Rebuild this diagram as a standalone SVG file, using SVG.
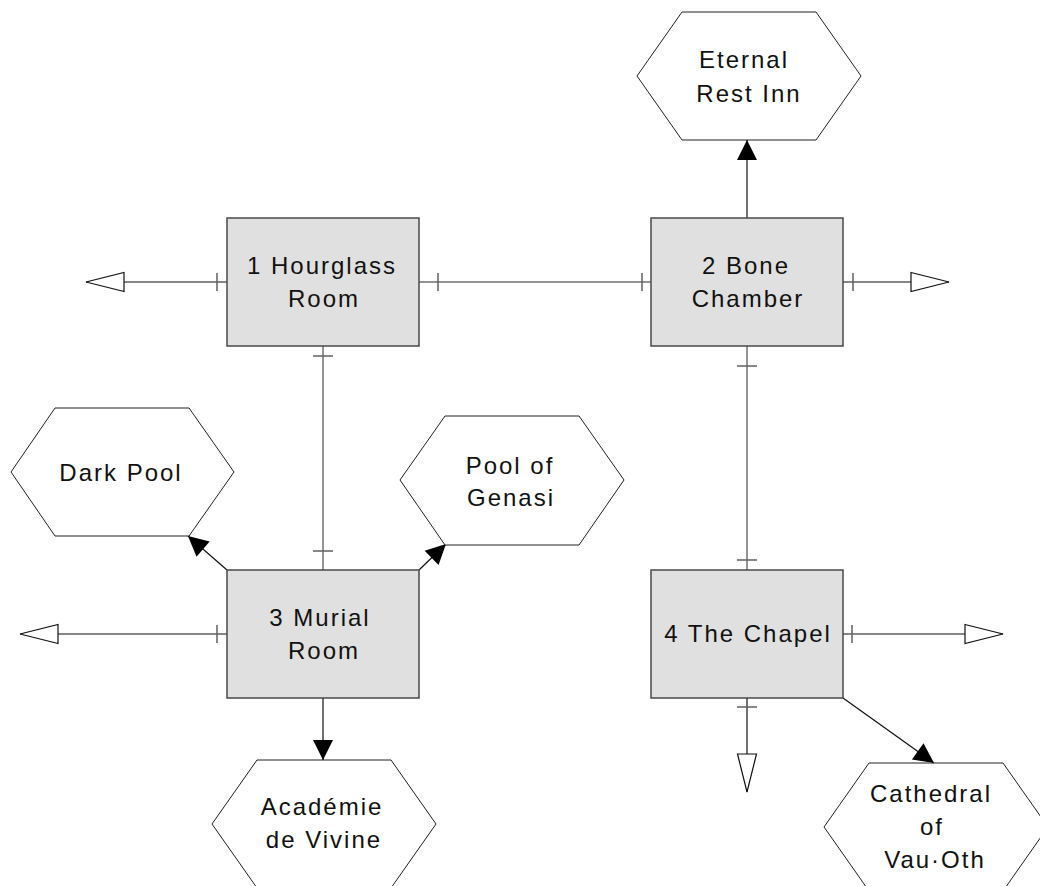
<svg xmlns="http://www.w3.org/2000/svg" width="1040" height="886" viewBox="0 0 1040 886">
<style>
.room{fill:#e0e0e0;stroke:#4a4a4a;stroke-width:1.5}
.place{fill:#ffffff;stroke:#222;stroke-width:1}
.lbl{font-family:"Liberation Sans",Arial,sans-serif;font-size:24px;letter-spacing:2px;fill:#111;text-anchor:middle}
.link{stroke:#707070;stroke-width:1.5;fill:none}
.exit{stroke:#111;stroke-width:1.2;fill:none}
.tick{stroke:#606060;stroke-width:1.5}
</style>
<defs>
<marker id="open" viewBox="0 0 40 20" markerUnits="userSpaceOnUse" markerWidth="40" markerHeight="20" refX="39" refY="10" orient="auto" overflow="visible">
<path d="M1,0.5 L39,10 L1,19.5 Z" fill="#fff" stroke="#111" stroke-width="1.2"/>
</marker>
<marker id="fill" viewBox="0 0 20 20" markerUnits="userSpaceOnUse" markerWidth="20" markerHeight="20" refX="20" refY="10" orient="auto" overflow="visible">
<path d="M0,0 L20,10 L0,20 Z" fill="#000"/>
</marker>
</defs>
<g id="connectors">
<line class="exit" x1="227" y1="282" x2="86" y2="282" marker-end="url(#open)"/>
<line class="tick" x1="217" y1="273" x2="217" y2="291"/>
<line class="exit" x1="843" y1="282" x2="949" y2="282" marker-end="url(#open)"/>
<line class="tick" x1="853" y1="273" x2="853" y2="291"/>
<line class="exit" x1="227" y1="634" x2="20" y2="634" marker-end="url(#open)"/>
<line class="tick" x1="217" y1="625" x2="217" y2="643"/>
<line class="exit" x1="843" y1="634" x2="1003" y2="634" marker-end="url(#open)"/>
<line class="tick" x1="852" y1="625" x2="852" y2="643"/>
<line class="exit" x1="747" y1="698" x2="747" y2="792" marker-end="url(#open)"/>
<line class="tick" x1="737" y1="707" x2="757" y2="707"/>
<line class="link" x1="419" y1="282" x2="651" y2="282"/>
<line class="tick" x1="438" y1="273" x2="438" y2="291"/>
<line class="tick" x1="642" y1="273" x2="642" y2="291"/>
<line class="link" x1="323" y1="346" x2="323" y2="570"/>
<line class="tick" x1="313" y1="356" x2="333" y2="356"/>
<line class="tick" x1="313" y1="551" x2="333" y2="551"/>
<line class="link" x1="747" y1="346" x2="747" y2="570"/>
<line class="tick" x1="737" y1="366" x2="757" y2="366"/>
<line class="tick" x1="737" y1="560" x2="757" y2="560"/>
<line class="exit" x1="747" y1="218" x2="747" y2="140" marker-end="url(#fill)"/>
<line class="exit" x1="323" y1="698" x2="323" y2="760" marker-end="url(#fill)"/>
<line class="exit" x1="227" y1="570" x2="188" y2="536" marker-end="url(#fill)"/>
<line class="exit" x1="419" y1="570" x2="446" y2="544" marker-end="url(#fill)"/>
<line class="exit" x1="843" y1="698" x2="934" y2="763" marker-end="url(#fill)"/>
</g>
<g id="room1">
<rect class="room" x="227" y="218" width="192" height="128"/>
<text class="lbl" x="322" y="274">1 Hourglass</text>
<text class="lbl" x="324" y="307">Room</text>
</g>
<g id="room2">
<rect class="room" x="651" y="218" width="192" height="128"/>
<text class="lbl" x="746" y="274">2 Bone</text>
<text class="lbl" x="748" y="307">Chamber</text>
</g>
<g id="room3">
<rect class="room" x="227" y="570" width="192" height="128"/>
<text class="lbl" x="320" y="626">3 Murial</text>
<text class="lbl" x="324" y="659">Room</text>
</g>
<g id="room4">
<rect class="room" x="651" y="570" width="192" height="128"/>
<text class="lbl" x="748" y="642">4 The Chapel</text>
</g>
<g id="eternal">
<polygon class="place" points="682,12 816,12 861,76 816,140 682,140 637,76"/>
<text class="lbl" x="744" y="68">Eternal</text>
<text class="lbl" x="749" y="102">Rest Inn</text>
</g>
<g id="darkpool">
<polygon class="place" points="55,408 189,408 234,472 189,536 55,536 11,472"/>
<text class="lbl" x="121" y="481">Dark Pool</text>
</g>
<g id="genasi">
<polygon class="place" points="445,416 579,416 624,480 579,545 445,545 400,480"/>
<text class="lbl" x="510" y="474">Pool of</text>
<text class="lbl" x="511" y="506">Genasi</text>
</g>
<g id="academie">
<polygon class="place" points="257,760 391,760 436,824 391,888 257,888 212,824"/>
<text class="lbl" x="322" y="815">Académie</text>
<text class="lbl" x="324" y="848">de Vivine</text>
</g>
<g id="cathedral">
<polygon class="place" points="869,763 1003,763 1048,827 1003,891 869,891 824,827"/>
<text class="lbl" x="931" y="802">Cathedral</text>
<text class="lbl" x="932" y="835">of</text>
<text class="lbl" x="935" y="868">Vau·Oth</text>
</g>
</svg>
